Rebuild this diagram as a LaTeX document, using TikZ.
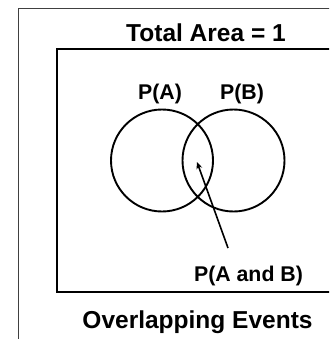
\documentclass[tikz,border=0pt]{standalone}
\usepackage{fontspec}
\setmainfont{Liberation Sans}
\usetikzlibrary{arrows.meta}
\tikzset{
  title/.style={font=\bfseries\fontsize{24.5}{27}\selectfont, anchor=base, inner sep=0pt},
  lbl/.style={font=\bfseries\fontsize{21.3}{24}\selectfont, anchor=base, inner sep=0pt},
  event/.style={draw=black, line width=1.9pt, circle, minimum size=102pt, inner sep=0pt},
  frame/.style={draw=black!75, line width=1pt},
  box/.style={draw=black, line width=2pt},
  pointer/.style={line width=1.6pt, -{Stealth[length=7pt,width=6pt]}}
}
\begin{document}
\begin{tikzpicture}[x=1pt,y=-1pt]
\useasboundingbox (0,0) rectangle (329,339);
\clip (0,0) rectangle (329,339);
\fill[white] (0,0) rectangle (329,339);
\draw[frame] (18.5,345) -- (18.5,8.5) -- (340,8.5);
\draw[box] (340,49.5) -- (57,49.5) -- (57,291.5) -- (340,291.5);
\node[title] (total) at (206,41.7) {Total Area = 1};
\node[event] (A) at (162,160.5) {};
\node[event] (B) at (233.5,160.5) {};
\node[lbl] (pa) at (160,100) {P(A)};
\node[lbl] (pb) at (242,100) {P(B)};
\node[lbl] (pab) at (248.5,281) {P(A and B)};
\node[title] (over) at (197.5,328.3) {Overlapping Events};
\coordinate (tail) at (228,248);
\coordinate (tip) at (197,162);
\draw[pointer] (tail) -- (tip);
\end{tikzpicture}
\end{document}
